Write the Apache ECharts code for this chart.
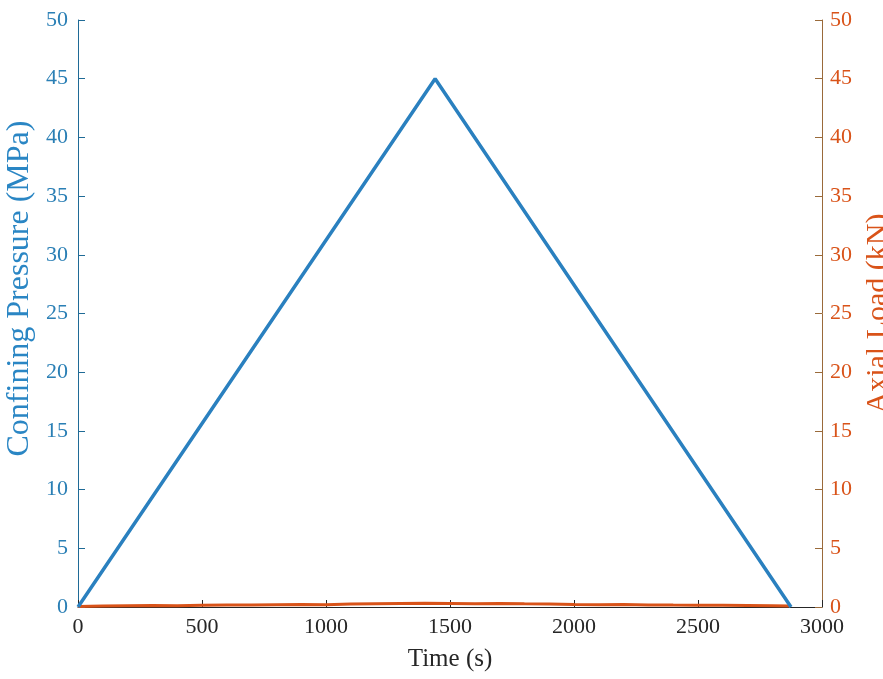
<!DOCTYPE html>
<html>
<head>
<meta charset="utf-8">
<script src="https://cdn.jsdelivr.net/npm/echarts@6/dist/echarts.min.js"></script>
<style>html,body{margin:0;padding:0;background:#fff;overflow:hidden}#c{width:883px;height:679px}</style>
</head>
<body>
<div id="c"></div>
<script>
// Confining pressure (MPa) vs time (s)
const pressureTime = [0, 1440, 2875];
const pressureValues = [0, 45, 0];
// Axial load (kN) vs time (s)
const loadTime = [0, 100, 200, 300, 400, 500, 600, 700, 800, 900, 1000, 1100, 1200, 1300, 1400, 1500, 1600, 1700, 1800, 1900, 2000, 2100, 2200, 2300, 2400, 2500, 2600, 2700, 2800, 2870];
const loadValues = [0.05, 0.08, 0.1, 0.12, 0.1, 0.15, 0.18, 0.16, 0.2, 0.22, 0.2, 0.25, 0.28, 0.3, 0.32, 0.3, 0.28, 0.3, 0.27, 0.25, 0.22, 0.2, 0.22, 0.18, 0.16, 0.15, 0.14, 0.12, 0.1, 0.08];
const xTicks = [0, 500, 1000, 1500, 2000, 2500, 3000];
const yTicks = [0, 5, 10, 15, 20, 25, 30, 35, 40, 45, 50];

const BLUE = '#2a80bf', ORANGE = '#D95319', DARK = '#262626';
const FONT = 'Liberation Serif';
const chart = echarts.init(document.getElementById('c'), null, {renderer: 'canvas'});
chart.setOption({
  animation: false,
  backgroundColor: '#fff',
  grid: {left: 78, right: 61, top: 20, bottom: 72, containLabel: false, outerBoundsMode: 'none'},
  xAxis: {
    type: 'value', min: xTicks[0], max: xTicks[xTicks.length - 1], interval: 500,
    name: 'Time (s)', nameLocation: 'middle', nameGap: 40,
    nameTextStyle: {fontFamily: FONT, fontSize: 25, color: DARK},
    axisLine: {show: true, onZero: false, lineStyle: {color: DARK, width: 1}},
    axisTick: {show: true, inside: true, length: 7, lineStyle: {color: DARK}},
    axisLabel: {fontFamily: FONT, fontSize: 22, color: DARK, margin: 9, formatter: v => String(v)},
    splitLine: {show: false}
  },
  yAxis: [{
    type: 'value', min: yTicks[0], max: yTicks[yTicks.length - 1], interval: 5, position: 'left',
    name: 'Confining Pressure (MPa)', nameLocation: 'middle', nameGap: 33, nameRotate: 90,
    nameTextStyle: {fontFamily: FONT, fontSize: 32, color: '#2a86c4', padding: [0, 0, 0, 50]},
    axisLine: {show: true, onZero: false, lineStyle: {color: '#1f6a96', width: 1}},
    axisTick: {show: true, inside: true, length: 7, lineStyle: {color: '#1f6a96'}},
    axisLabel: {fontFamily: FONT, fontSize: 22, color: '#2a7fb5', margin: 10},
    splitLine: {show: false}
  }, {
    type: 'value', min: yTicks[0], max: yTicks[yTicks.length - 1], interval: 5, position: 'right',
    name: 'Axial Load (kN)', nameLocation: 'middle', nameGap: 36, nameRotate: 90,
    nameTextStyle: {fontFamily: FONT, fontSize: 30, color: ORANGE},
    axisLine: {show: true, onZero: false, lineStyle: {color: '#9a6a3a', width: 1}},
    axisTick: {show: true, inside: true, length: 7, lineStyle: {color: '#9a6a3a'}},
    axisLabel: {fontFamily: FONT, fontSize: 22, color: ORANGE, margin: 8},
    splitLine: {show: false}
  }],
  series: [{
    type: 'line', yAxisIndex: 1, symbol: 'none',
    data: loadTime.map((t, i) => [t, loadValues[i]]),
    lineStyle: {color: ORANGE, width: 3}, z: 2
  }, {
    type: 'line', yAxisIndex: 0, symbol: 'none',
    data: pressureTime.map((t, i) => [t, pressureValues[i]]),
    lineStyle: {color: BLUE, width: 3.5}, z: 3
  }]
});
</script>
</body>
</html>
